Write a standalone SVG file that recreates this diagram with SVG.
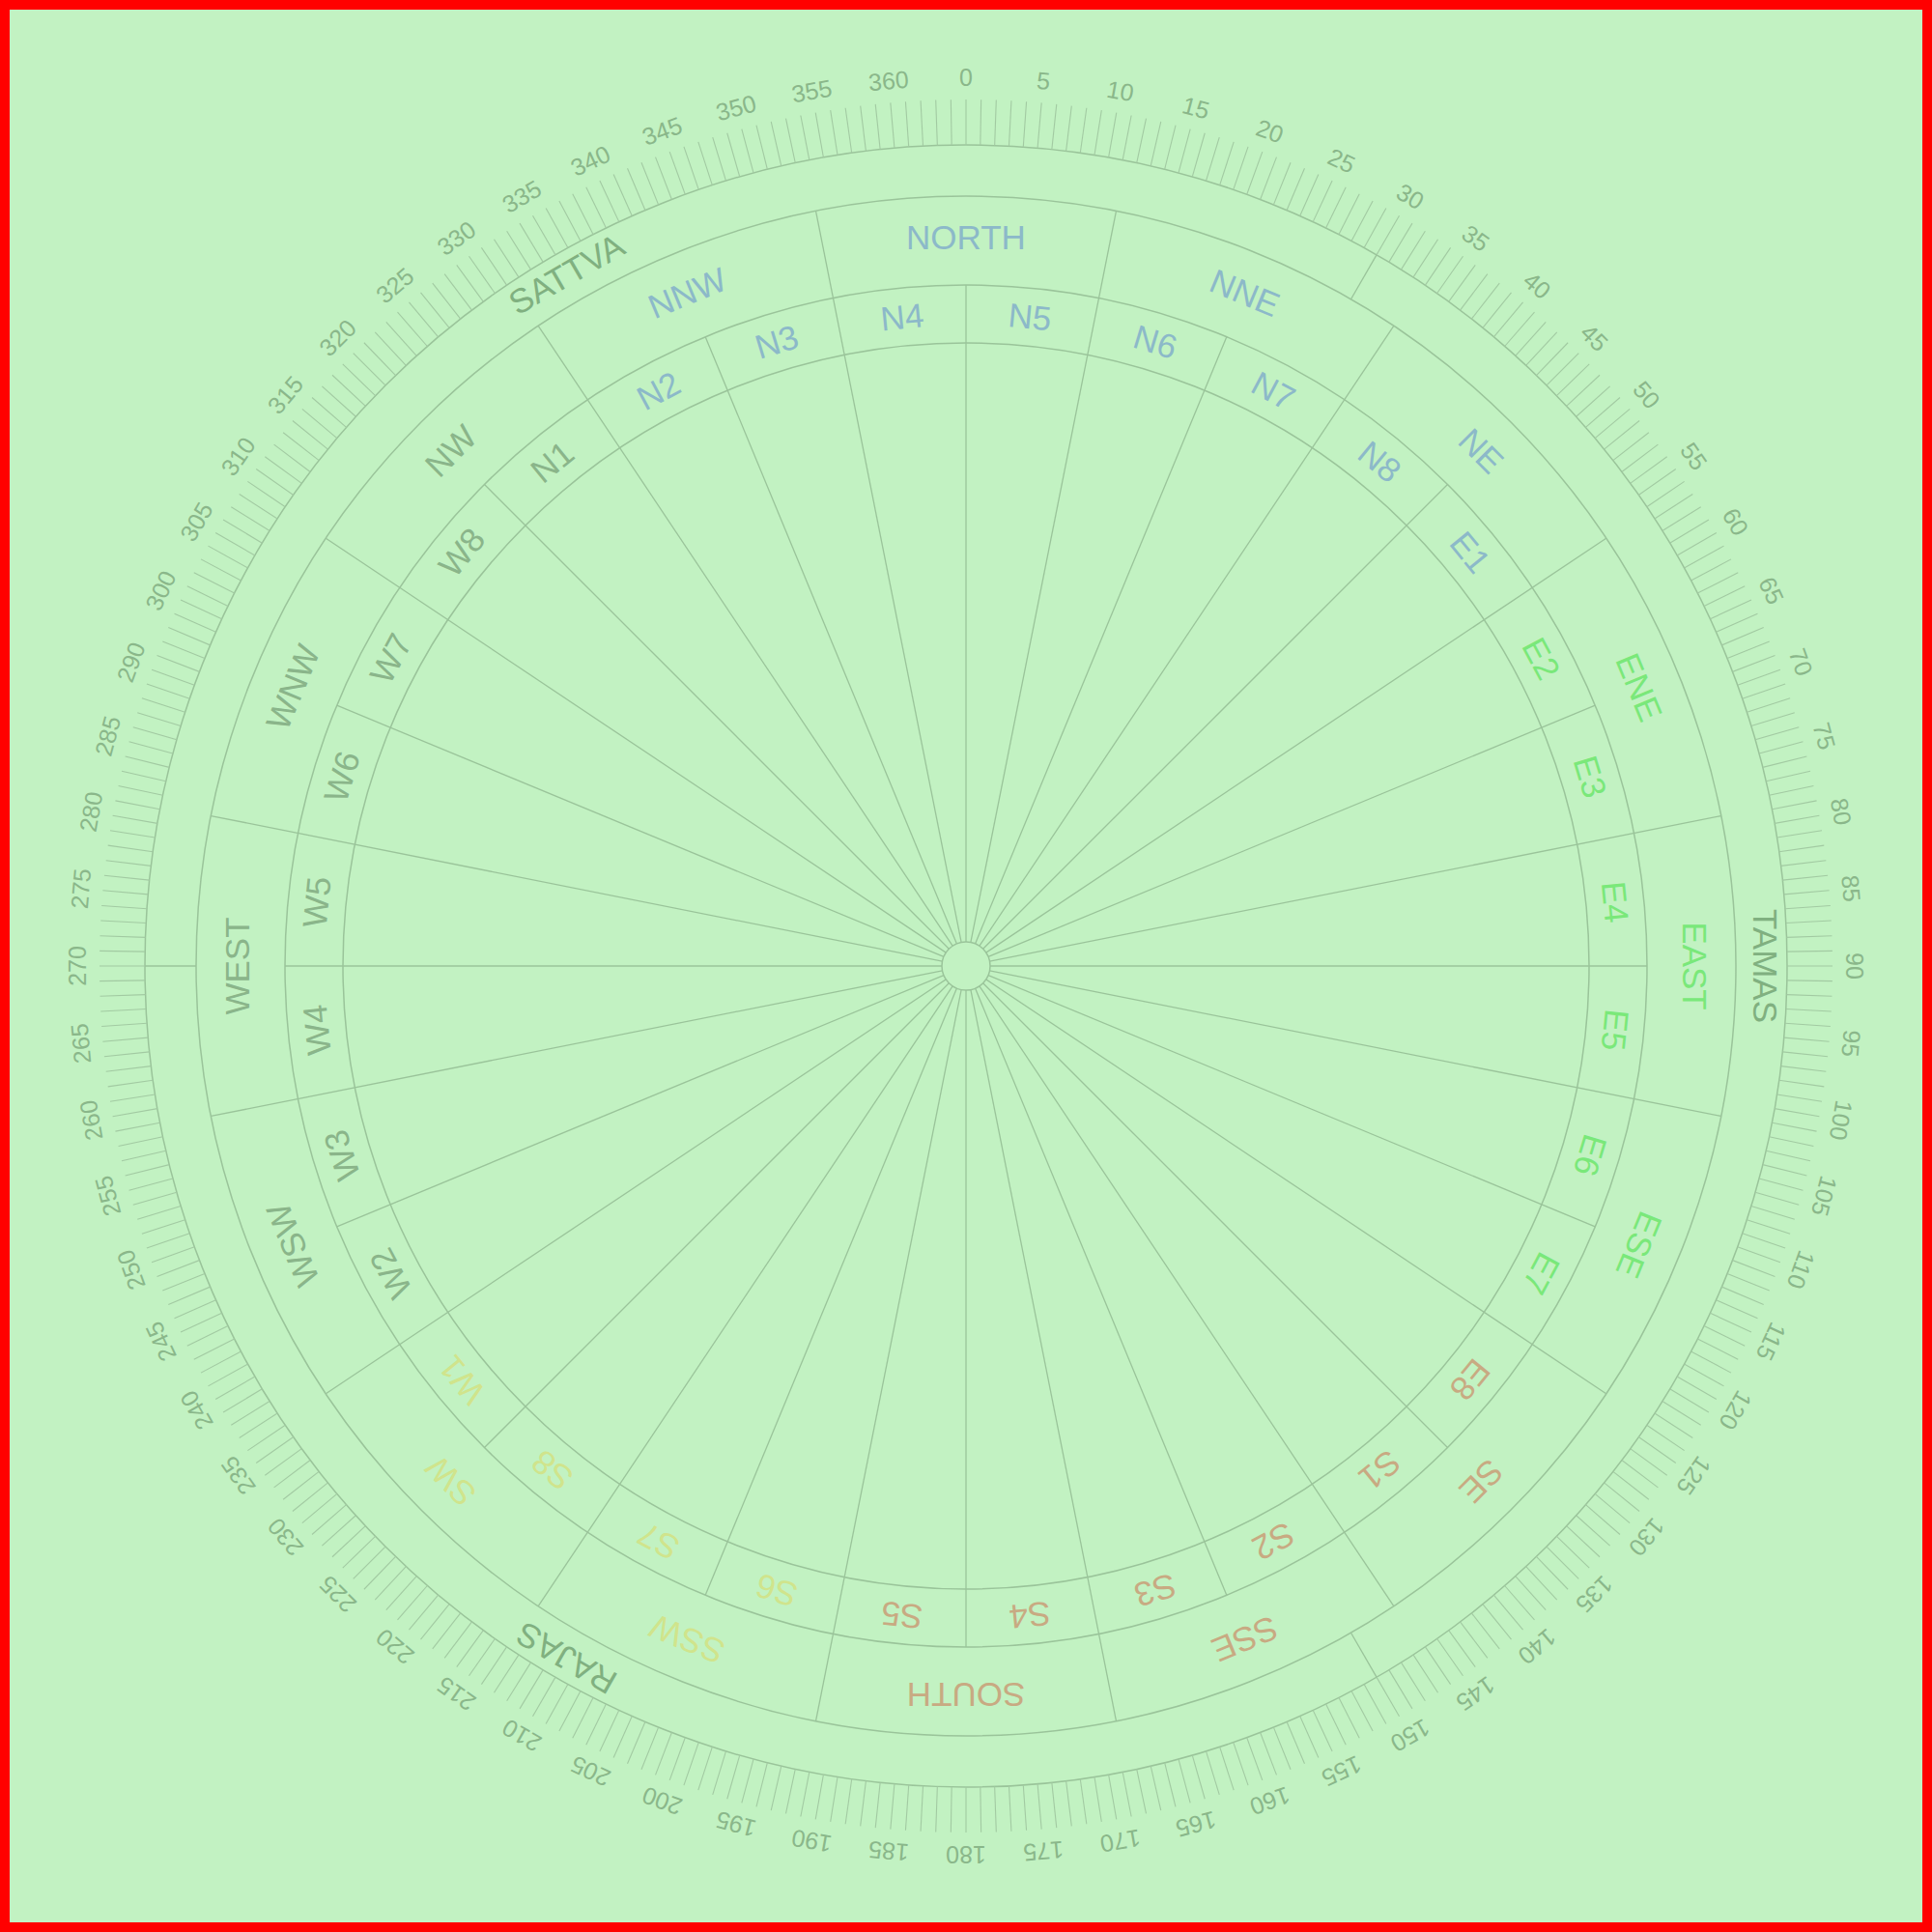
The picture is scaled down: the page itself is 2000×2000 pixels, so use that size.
<svg xmlns="http://www.w3.org/2000/svg" xmlns:xlink="http://www.w3.org/1999/xlink" width="2000" height="2000" viewBox="0 0 2000 2000">
<style>
.ring{fill:none;stroke:#9ac49a;stroke-width:1.5}
.rad{stroke:#9ac49a;stroke-width:1.3}
.tick{stroke:#a2caa2;stroke-width:1.1}
text{font-family:"Liberation Sans",Arial,sans-serif;text-anchor:middle}
.deg{font-size:25px;fill:#8ab78a}
.guna{font-size:35px;fill:#80b080}
.dir{font-size:35px}
.pad{font-size:35px}
.blue{fill:#8cb9c9}
.green{fill:#7ae87a}
.brown{fill:#c8aa82}
.yellow{fill:#d0e48c}
.grey{fill:#8ab58a}
</style>
<defs>
<line id="tk" class="tick" x1="1000" y1="103" x2="1000" y2="150"/>
<g id="tk10">
<use href="#tk"/>
<use href="#tk" transform="rotate(1 1000 1000)"/>
<use href="#tk" transform="rotate(2 1000 1000)"/>
<use href="#tk" transform="rotate(3 1000 1000)"/>
<use href="#tk" transform="rotate(4 1000 1000)"/>
<use href="#tk" transform="rotate(5 1000 1000)"/>
<use href="#tk" transform="rotate(6 1000 1000)"/>
<use href="#tk" transform="rotate(7 1000 1000)"/>
<use href="#tk" transform="rotate(8 1000 1000)"/>
<use href="#tk" transform="rotate(9 1000 1000)"/>
</g>
<line id="r1" class="rad" x1="1000" y1="975" x2="1000" y2="295"/>
<line id="r2" class="rad" x1="1000" y1="975" x2="1000" y2="203"/>
<line id="r3" class="rad" x1="1000" y1="203" x2="1000" y2="150"/>
</defs>
<rect x="0" y="0" width="2000" height="2000" fill="#c2f2c2" stroke="#ff0000" stroke-width="20"/>
<g id="rings">
<circle class="ring" cx="1000" cy="1000" r="850"/>
<circle class="ring" cx="1000" cy="1000" r="797"/>
<circle class="ring" cx="1000" cy="1000" r="705"/>
<circle class="ring" cx="1000" cy="1000" r="645"/>
<circle class="ring" cx="1000" cy="1000" r="25"/>
</g>
<g id="ticks">
<use href="#tk10"/>
<use href="#tk10" transform="rotate(10 1000 1000)"/>
<use href="#tk10" transform="rotate(20 1000 1000)"/>
<use href="#tk10" transform="rotate(30 1000 1000)"/>
<use href="#tk10" transform="rotate(40 1000 1000)"/>
<use href="#tk10" transform="rotate(50 1000 1000)"/>
<use href="#tk10" transform="rotate(60 1000 1000)"/>
<use href="#tk10" transform="rotate(70 1000 1000)"/>
<use href="#tk10" transform="rotate(80 1000 1000)"/>
<use href="#tk10" transform="rotate(90 1000 1000)"/>
<use href="#tk10" transform="rotate(100 1000 1000)"/>
<use href="#tk10" transform="rotate(110 1000 1000)"/>
<use href="#tk10" transform="rotate(120 1000 1000)"/>
<use href="#tk10" transform="rotate(130 1000 1000)"/>
<use href="#tk10" transform="rotate(140 1000 1000)"/>
<use href="#tk10" transform="rotate(150 1000 1000)"/>
<use href="#tk10" transform="rotate(160 1000 1000)"/>
<use href="#tk10" transform="rotate(170 1000 1000)"/>
<use href="#tk10" transform="rotate(180 1000 1000)"/>
<use href="#tk10" transform="rotate(190 1000 1000)"/>
<use href="#tk10" transform="rotate(200 1000 1000)"/>
<use href="#tk10" transform="rotate(210 1000 1000)"/>
<use href="#tk10" transform="rotate(220 1000 1000)"/>
<use href="#tk10" transform="rotate(230 1000 1000)"/>
<use href="#tk10" transform="rotate(240 1000 1000)"/>
<use href="#tk10" transform="rotate(250 1000 1000)"/>
<use href="#tk10" transform="rotate(260 1000 1000)"/>
<use href="#tk10" transform="rotate(270 1000 1000)"/>
<use href="#tk10" transform="rotate(280 1000 1000)"/>
<use href="#tk10" transform="rotate(290 1000 1000)"/>
<use href="#tk10" transform="rotate(300 1000 1000)"/>
<use href="#tk10" transform="rotate(310 1000 1000)"/>
<use href="#tk10" transform="rotate(320 1000 1000)"/>
<use href="#tk10" transform="rotate(330 1000 1000)"/>
<use href="#tk10" transform="rotate(340 1000 1000)"/>
<use href="#tk10" transform="rotate(350 1000 1000)"/>
</g>
<g id="connectors">
<use href="#r1"/>
<use href="#r2" transform="rotate(11.25 1000 1000)"/>
<use href="#r1" transform="rotate(22.5 1000 1000)"/>
<use href="#r2" transform="rotate(33.75 1000 1000)"/>
<use href="#r1" transform="rotate(45 1000 1000)"/>
<use href="#r2" transform="rotate(56.25 1000 1000)"/>
<use href="#r1" transform="rotate(67.5 1000 1000)"/>
<use href="#r2" transform="rotate(78.75 1000 1000)"/>
<use href="#r1" transform="rotate(90 1000 1000)"/>
<use href="#r2" transform="rotate(101.25 1000 1000)"/>
<use href="#r1" transform="rotate(112.5 1000 1000)"/>
<use href="#r2" transform="rotate(123.75 1000 1000)"/>
<use href="#r1" transform="rotate(135 1000 1000)"/>
<use href="#r2" transform="rotate(146.25 1000 1000)"/>
<use href="#r1" transform="rotate(157.5 1000 1000)"/>
<use href="#r2" transform="rotate(168.75 1000 1000)"/>
<use href="#r1" transform="rotate(180 1000 1000)"/>
<use href="#r2" transform="rotate(191.25 1000 1000)"/>
<use href="#r1" transform="rotate(202.5 1000 1000)"/>
<use href="#r2" transform="rotate(213.75 1000 1000)"/>
<use href="#r1" transform="rotate(225 1000 1000)"/>
<use href="#r2" transform="rotate(236.25 1000 1000)"/>
<use href="#r1" transform="rotate(247.5 1000 1000)"/>
<use href="#r2" transform="rotate(258.75 1000 1000)"/>
<use href="#r1" transform="rotate(270 1000 1000)"/>
<use href="#r2" transform="rotate(281.25 1000 1000)"/>
<use href="#r1" transform="rotate(292.5 1000 1000)"/>
<use href="#r2" transform="rotate(303.75 1000 1000)"/>
<use href="#r1" transform="rotate(315 1000 1000)"/>
<use href="#r2" transform="rotate(326.25 1000 1000)"/>
<use href="#r1" transform="rotate(337.5 1000 1000)"/>
<use href="#r2" transform="rotate(348.75 1000 1000)"/>
<use href="#r3" transform="rotate(30 1000 1000)"/>
<use href="#r3" transform="rotate(150 1000 1000)"/>
<use href="#r3" transform="rotate(270 1000 1000)"/>
</g>
<g id="degrees" class="deg">
<text x="1000" y="89">0</text>
<text x="1000" y="89" transform="rotate(5 1000 1000)">5</text>
<text x="1000" y="89" transform="rotate(10 1000 1000)">10</text>
<text x="1000" y="89" transform="rotate(15 1000 1000)">15</text>
<text x="1000" y="89" transform="rotate(20 1000 1000)">20</text>
<text x="1000" y="89" transform="rotate(25 1000 1000)">25</text>
<text x="1000" y="89" transform="rotate(30 1000 1000)">30</text>
<text x="1000" y="89" transform="rotate(35 1000 1000)">35</text>
<text x="1000" y="89" transform="rotate(40 1000 1000)">40</text>
<text x="1000" y="89" transform="rotate(45 1000 1000)">45</text>
<text x="1000" y="89" transform="rotate(50 1000 1000)">50</text>
<text x="1000" y="89" transform="rotate(55 1000 1000)">55</text>
<text x="1000" y="89" transform="rotate(60 1000 1000)">60</text>
<text x="1000" y="89" transform="rotate(65 1000 1000)">65</text>
<text x="1000" y="89" transform="rotate(70 1000 1000)">70</text>
<text x="1000" y="89" transform="rotate(75 1000 1000)">75</text>
<text x="1000" y="89" transform="rotate(80 1000 1000)">80</text>
<text x="1000" y="89" transform="rotate(85 1000 1000)">85</text>
<text x="1000" y="89" transform="rotate(90 1000 1000)">90</text>
<text x="1000" y="89" transform="rotate(95 1000 1000)">95</text>
<text x="1000" y="89" transform="rotate(100 1000 1000)">100</text>
<text x="1000" y="89" transform="rotate(105 1000 1000)">105</text>
<text x="1000" y="89" transform="rotate(110 1000 1000)">110</text>
<text x="1000" y="89" transform="rotate(115 1000 1000)">115</text>
<text x="1000" y="89" transform="rotate(120 1000 1000)">120</text>
<text x="1000" y="89" transform="rotate(125 1000 1000)">125</text>
<text x="1000" y="89" transform="rotate(130 1000 1000)">130</text>
<text x="1000" y="89" transform="rotate(135 1000 1000)">135</text>
<text x="1000" y="89" transform="rotate(140 1000 1000)">140</text>
<text x="1000" y="89" transform="rotate(145 1000 1000)">145</text>
<text x="1000" y="89" transform="rotate(150 1000 1000)">150</text>
<text x="1000" y="89" transform="rotate(155 1000 1000)">155</text>
<text x="1000" y="89" transform="rotate(160 1000 1000)">160</text>
<text x="1000" y="89" transform="rotate(165 1000 1000)">165</text>
<text x="1000" y="89" transform="rotate(170 1000 1000)">170</text>
<text x="1000" y="89" transform="rotate(175 1000 1000)">175</text>
<text x="1000" y="89" transform="rotate(180 1000 1000)">180</text>
<text x="1000" y="89" transform="rotate(185 1000 1000)">185</text>
<text x="1000" y="89" transform="rotate(190 1000 1000)">190</text>
<text x="1000" y="89" transform="rotate(195 1000 1000)">195</text>
<text x="1000" y="89" transform="rotate(200 1000 1000)">200</text>
<text x="1000" y="89" transform="rotate(205 1000 1000)">205</text>
<text x="1000" y="89" transform="rotate(210 1000 1000)">210</text>
<text x="1000" y="89" transform="rotate(215 1000 1000)">215</text>
<text x="1000" y="89" transform="rotate(220 1000 1000)">220</text>
<text x="1000" y="89" transform="rotate(225 1000 1000)">225</text>
<text x="1000" y="89" transform="rotate(230 1000 1000)">230</text>
<text x="1000" y="89" transform="rotate(235 1000 1000)">235</text>
<text x="1000" y="89" transform="rotate(240 1000 1000)">240</text>
<text x="1000" y="89" transform="rotate(245 1000 1000)">245</text>
<text x="1000" y="89" transform="rotate(250 1000 1000)">250</text>
<text x="1000" y="89" transform="rotate(255 1000 1000)">255</text>
<text x="1000" y="89" transform="rotate(260 1000 1000)">260</text>
<text x="1000" y="89" transform="rotate(265 1000 1000)">265</text>
<text x="1000" y="89" transform="rotate(270 1000 1000)">270</text>
<text x="1000" y="89" transform="rotate(275 1000 1000)">275</text>
<text x="1000" y="89" transform="rotate(280 1000 1000)">280</text>
<text x="1000" y="89" transform="rotate(285 1000 1000)">285</text>
<text x="1000" y="89" transform="rotate(290 1000 1000)">290</text>
<text x="1000" y="89" transform="rotate(295 1000 1000)">300</text>
<text x="1000" y="89" transform="rotate(300 1000 1000)">305</text>
<text x="1000" y="89" transform="rotate(305 1000 1000)">310</text>
<text x="1000" y="89" transform="rotate(310 1000 1000)">315</text>
<text x="1000" y="89" transform="rotate(315 1000 1000)">320</text>
<text x="1000" y="89" transform="rotate(320 1000 1000)">325</text>
<text x="1000" y="89" transform="rotate(325 1000 1000)">330</text>
<text x="1000" y="89" transform="rotate(330 1000 1000)">335</text>
<text x="1000" y="89" transform="rotate(335 1000 1000)">340</text>
<text x="1000" y="89" transform="rotate(340 1000 1000)">345</text>
<text x="1000" y="89" transform="rotate(345 1000 1000)">350</text>
<text x="1000" y="89" transform="rotate(350 1000 1000)">355</text>
<text x="1000" y="89" transform="rotate(355 1000 1000)">360</text>
</g>
<g id="gunas" class="guna">
<text id="sattva" x="1000" y="185" transform="rotate(330 1000 1000)">SATTVA</text>
<text id="tamas" x="1000" y="185" transform="rotate(90 1000 1000)">TAMAS</text>
<text id="rajas" x="1000" y="185" transform="rotate(210 1000 1000)">RAJAS</text>
</g>
<g id="directions" class="dir">
<text id="north" class="blue" x="1000" y="258">NORTH</text>
<text id="nne" class="blue" x="1000" y="258" transform="rotate(22.5 1000 1000)">NNE</text>
<text id="ne" class="blue" x="1000" y="258" transform="rotate(45 1000 1000)">NE</text>
<text id="ene" class="green" x="1000" y="258" transform="rotate(67.5 1000 1000)">ENE</text>
<text id="east" class="green" x="1000" y="258" transform="rotate(90 1000 1000)">EAST</text>
<text id="ese" class="green" x="1000" y="258" transform="rotate(112.5 1000 1000)">ESE</text>
<text id="se" class="brown" x="1000" y="258" transform="rotate(135 1000 1000)">SE</text>
<text id="sse" class="brown" x="1000" y="258" transform="rotate(157.5 1000 1000)">SSE</text>
<text id="south" class="brown" x="1000" y="258" transform="rotate(180 1000 1000)">SOUTH</text>
<text id="ssw" class="yellow" x="1000" y="258" transform="rotate(202.5 1000 1000)">SSW</text>
<text id="sw" class="yellow" x="1000" y="258" transform="rotate(225 1000 1000)">SW</text>
<text id="wsw" class="grey" x="1000" y="258" transform="rotate(247.5 1000 1000)">WSW</text>
<text id="west" class="grey" x="1000" y="258" transform="rotate(270 1000 1000)">WEST</text>
<text id="wnw" class="grey" x="1000" y="258" transform="rotate(292.5 1000 1000)">WNW</text>
<text id="nw" class="grey" x="1000" y="258" transform="rotate(315 1000 1000)">NW</text>
<text id="nnw" class="blue" x="1000" y="258" transform="rotate(337.5 1000 1000)">NNW</text>
</g>
<g id="padas" class="pad">
<text id="n5" class="blue" x="1000" y="337" transform="rotate(5.625 1000 1000)">N5</text>
<text id="n6" class="blue" x="1000" y="337" transform="rotate(16.875 1000 1000)">N6</text>
<text id="n7" class="blue" x="1000" y="337" transform="rotate(28.125 1000 1000)">N7</text>
<text id="n8" class="blue" x="1000" y="337" transform="rotate(39.375 1000 1000)">N8</text>
<text id="e1" class="blue" x="1000" y="337" transform="rotate(50.625 1000 1000)">E1</text>
<text id="e2" class="green" x="1000" y="337" transform="rotate(61.875 1000 1000)">E2</text>
<text id="e3" class="green" x="1000" y="337" transform="rotate(73.125 1000 1000)">E3</text>
<text id="e4" class="green" x="1000" y="337" transform="rotate(84.375 1000 1000)">E4</text>
<text id="e5" class="green" x="1000" y="337" transform="rotate(95.625 1000 1000)">E5</text>
<text id="e6" class="green" x="1000" y="337" transform="rotate(106.875 1000 1000)">E6</text>
<text id="e7" class="green" x="1000" y="337" transform="rotate(118.125 1000 1000)">E7</text>
<text id="e8" class="brown" x="1000" y="337" transform="rotate(129.375 1000 1000)">E8</text>
<text id="s1" class="brown" x="1000" y="337" transform="rotate(140.625 1000 1000)">S1</text>
<text id="s2" class="brown" x="1000" y="337" transform="rotate(151.875 1000 1000)">S2</text>
<text id="s3" class="brown" x="1000" y="337" transform="rotate(163.125 1000 1000)">S3</text>
<text id="s4" class="brown" x="1000" y="337" transform="rotate(174.375 1000 1000)">S4</text>
<text id="s5" class="brown" x="1000" y="337" transform="rotate(185.625 1000 1000)">S5</text>
<text id="s6" class="yellow" x="1000" y="337" transform="rotate(196.875 1000 1000)">S6</text>
<text id="s7" class="yellow" x="1000" y="337" transform="rotate(208.125 1000 1000)">S7</text>
<text id="s8" class="yellow" x="1000" y="337" transform="rotate(219.375 1000 1000)">S8</text>
<text id="w1" class="yellow" x="1000" y="337" transform="rotate(230.625 1000 1000)">W1</text>
<text id="w2" class="grey" x="1000" y="337" transform="rotate(241.875 1000 1000)">W2</text>
<text id="w3" class="grey" x="1000" y="337" transform="rotate(253.125 1000 1000)">W3</text>
<text id="w4" class="grey" x="1000" y="337" transform="rotate(264.375 1000 1000)">W4</text>
<text id="w5" class="grey" x="1000" y="337" transform="rotate(275.625 1000 1000)">W5</text>
<text id="w6" class="grey" x="1000" y="337" transform="rotate(286.875 1000 1000)">W6</text>
<text id="w7" class="grey" x="1000" y="337" transform="rotate(298.125 1000 1000)">W7</text>
<text id="w8" class="grey" x="1000" y="337" transform="rotate(309.375 1000 1000)">W8</text>
<text id="n1" class="grey" x="1000" y="337" transform="rotate(320.625 1000 1000)">N1</text>
<text id="n2" class="blue" x="1000" y="337" transform="rotate(331.875 1000 1000)">N2</text>
<text id="n3" class="blue" x="1000" y="337" transform="rotate(343.125 1000 1000)">N3</text>
<text id="n4" class="blue" x="1000" y="337" transform="rotate(354.375 1000 1000)">N4</text>
</g>
</svg>
